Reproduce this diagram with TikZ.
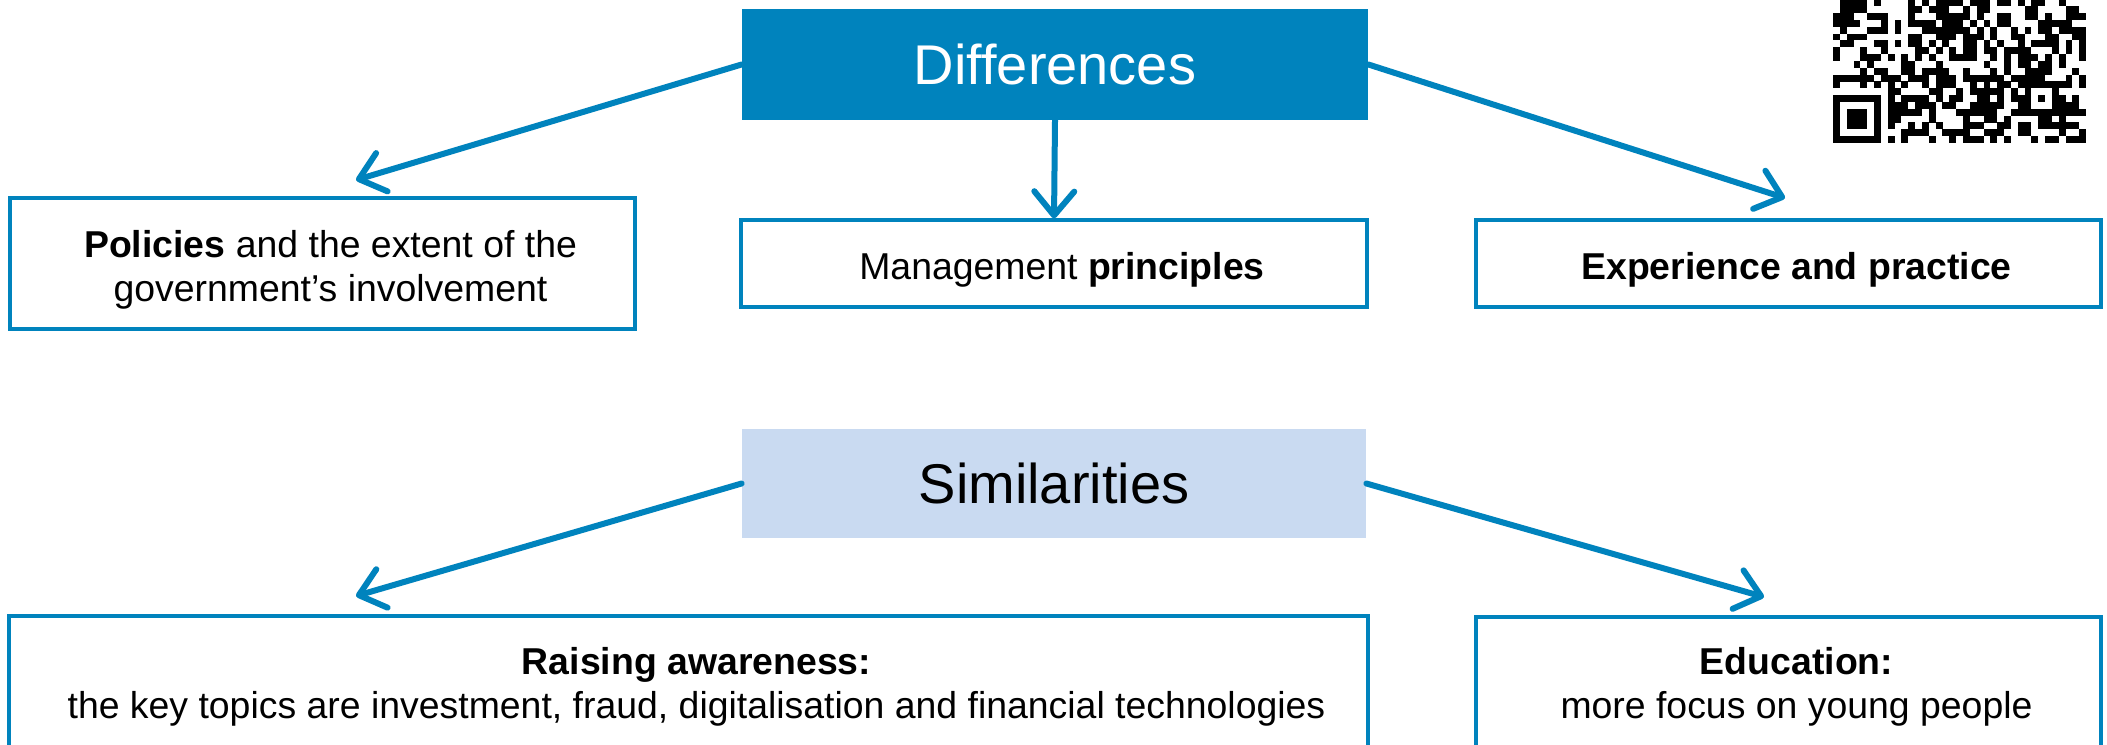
\documentclass[tikz,border=0pt]{standalone}
\usepackage{fontspec}
\setmainfont{Liberation Sans}
\usetikzlibrary{arrows.meta}
\definecolor{dblue}{RGB}{0,131,189}
\definecolor{lblue}{RGB}{201,218,241}
\tikzset{
  headbox/.style={minimum width=313pt, inner sep=0pt, font=\fontsize{28}{34}\selectfont},
  itembox/.style={draw=dblue, line width=1.6pt, fill=white, inner sep=0pt},
  itemtext/.style={align=center, inner sep=0pt, yshift=-3pt, xshift=4pt, font=\fontsize{18.7}{22}\selectfont},
  lowtext/.style={itemtext, yshift=1.5pt},
  link/.style={draw=dblue, line width=3pt, line cap=round,
               -{Straight Barb[round, length=12pt, width=20pt]}},
  qrmod/.style={fill=black}
}
\newcommand{\qrcell}[2]{\fill[qrmod] ({1833+#1*6.84},{143-(37-#2)*6.84}) rectangle ++(6.9,6.9);}
\newcommand{\qrwhite}[2]{\fill[white] ({1833+#1*6.84},{143-(37-#2)*6.84}) rectangle ++(6.84,6.84);}
\begin{document}
\begin{tikzpicture}[x=0.5pt, y=-0.5pt]
\clip (0,0) rectangle (2107,744);
\fill[white] (0,0) rectangle (2107,744);

% header boxes
\node[headbox, fill=dblue, text=white, minimum height=55.5pt] (diff) at (1055,64.5) {Differences};
\node[headbox, fill=lblue, text=black, minimum height=54.5pt, minimum width=312pt] (sim) at (1054,483.5) {Similarities};

% item boxes
\node[itembox, minimum width=312.5pt, minimum height=65.5pt,
  label={[itemtext]center:{\textbf{Policies} and the extent of the\\government’s involvement}}] (pol) at (322.5,263.5) {};
\node[itembox, minimum width=313pt, minimum height=43.5pt,
  label={[itemtext]center:{Management \textbf{principles}}}] (mgmt) at (1054,263.5) {};
\node[itembox, minimum width=312.5pt, minimum height=43.5pt,
  label={[itemtext]center:{\textbf{Experience and practice}}}] (exp) at (1788.5,263.5) {};
\node[itembox, minimum width=679.5pt, minimum height=67.5pt,
  label={[lowtext]center:{\textbf{Raising awareness:}\\the key topics are investment, fraud, digitalisation and financial technologies}}] (raise) at (688.5,683.5) {};
\node[itembox, minimum width=312.5pt, minimum height=67pt,
  label={[lowtext]center:{\textbf{Education:}\\more focus on young people}}] (edu) at (1788.5,684) {};

% arrow tips
\coordinate (t1) at (356,180);
\coordinate (t3) at (1785,198);
\coordinate (t4) at (356,596);
\coordinate (t5) at (1764,597);

\draw[link] (diff.west) -- (t1);
\draw[link] (diff.south) -- (mgmt.north);
\draw[link] (diff.east) -- (t3);
\draw[link] (sim.west) -- (t4);
\draw[link] (sim.east) -- (t5);

% QR code (visible lower part)
\pgfmathsetseed{7}
\foreach \r in {16,...,36}{
  \foreach \c in {0,...,36}{
    \pgfmathtruncatemacro\res{((\c<=7) && (\r>=29)) || ((\c>=28) && (\c<=32) && (\r>=28) && (\r<=32)) || (\c==6)}
    \ifnum\res=0
      \pgfmathtruncatemacro\bit{rnd<0.5}
      \ifnum\bit=1 \qrcell{\c}{\r}\fi
    \fi
  }
}
% timing column
\foreach \r in {16,18,...,28}{\qrcell{6}{\r}}
% finder pattern bottom-left
\foreach \r in {30,...,36}{\foreach \c in {0,...,6}{\qrcell{\c}{\r}}}
\foreach \r in {31,...,35}{\foreach \c in {1,...,5}{\qrwhite{\c}{\r}}}
\foreach \r in {32,...,34}{\foreach \c in {2,...,4}{\qrcell{\c}{\r}}}
% alignment pattern
\foreach \r in {28,...,32}{\foreach \c in {28,...,32}{\qrcell{\c}{\r}}}
\foreach \r in {29,...,31}{\foreach \c in {29,...,31}{\qrwhite{\c}{\r}}}
\qrcell{30}{30}
\qrcell{8}{29}
\end{tikzpicture}
\end{document}
